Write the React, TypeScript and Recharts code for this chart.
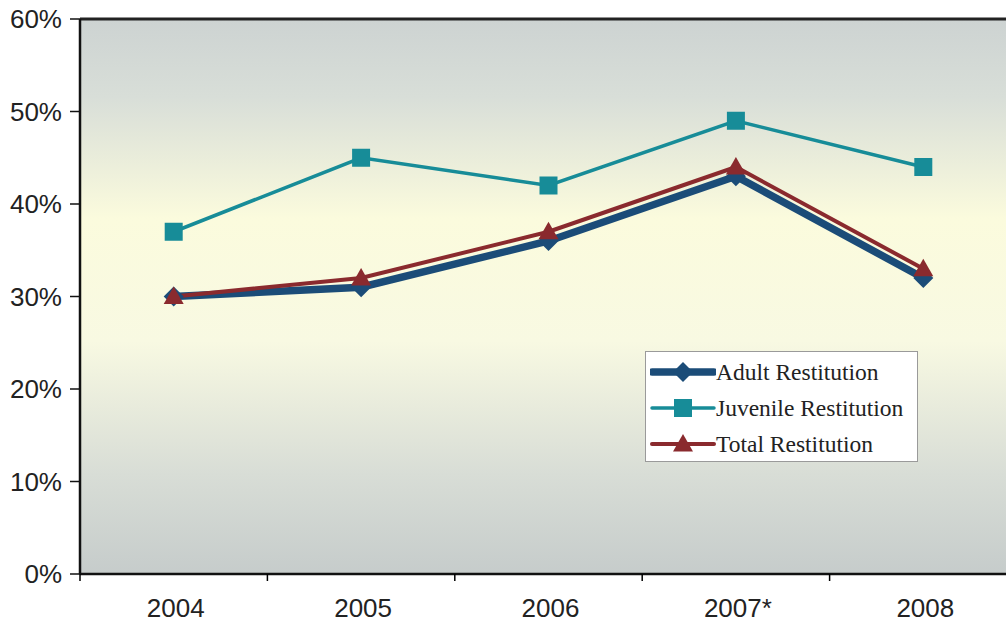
import React from "react";
import {
  LineChart,
  Line,
  XAxis,
  YAxis,
  CartesianGrid,
  ReferenceLine,
} from "recharts";

const years = ["2004", "2005", "2006", "2007*", "2008"];
const adult = [30, 31, 36, 43, 32];
const juvenile = [37, 45, 42, 49, 44];
const total = [30, 32, 37, 44, 33];
const yTicks = [0, 10, 20, 30, 40, 50, 60];

const NAVY = "#1b4c78";
const TEAL = "#178c98";
const RED = "#8a2a2e";

const data = years.map((y, i) => ({
  year: y,
  adult: adult[i],
  juvenile: juvenile[i],
  total: total[i],
}));

const SERIES = [
  { key: "adult", name: "Adult Restitution", color: NAVY, width: 7.5, shape: "diamond" },
  { key: "juvenile", name: "Juvenile Restitution", color: TEAL, width: 3.5, shape: "square" },
  { key: "total", name: "Total Restitution", color: RED, width: 4, shape: "triangle" },
];

function Marker({ cx, cy, shape, color }: any) {
  if (cx == null || cy == null) return null;
  if (shape === "diamond") {
    const r = 10;
    return (
      <path
        d={`M${cx},${cy - r}L${cx + r},${cy}L${cx},${cy + r}L${cx - r},${cy}Z`}
        fill={color}
      />
    );
  }
  if (shape === "square") {
    const r = 9;
    return <rect x={cx - r} y={cy - r} width={r * 2} height={r * 2} fill={color} />;
  }
  const r = 10;
  return (
    <path
      d={`M${cx},${cy - r}L${cx + r},${cy + r * 0.75}L${cx - r},${cy + r * 0.75}Z`}
      fill={color}
    />
  );
}

function XTick({ x, y, payload }: any) {
  const off = payload.offset || 0;
  return (
    <g>
      <line x1={x - off} y1={y - 8} x2={x - off} y2={y - 1} stroke="#000" strokeWidth={1.5} />
      <text
        x={x + 2}
        y={y + 35}
        textAnchor="middle"
        fontFamily="Liberation Sans, Arial, sans-serif"
        fontSize={26}
        fill="#222"
      >
        {payload.value}
      </text>
    </g>
  );
}

function LegendBox() {
  return (
    <div
      style={{
        position: "absolute",
        left: 645,
        top: 351,
        width: 273,
        height: 111,
        background: "#fff",
        border: "1px solid #9a9a9a",
        boxSizing: "border-box",
        padding: "2px 0 0 4px",
      }}
    >
      {SERIES.map((s) => (
        <div key={s.key} style={{ display: "flex", alignItems: "center", height: 36 }}>
          <svg width={66} height={24}>
            <line x1={2} y1={12} x2={64} y2={12} stroke={s.color} strokeWidth={s.width} strokeLinecap="round" />
            <Marker cx={33} cy={12} shape={s.shape} color={s.color} />
          </svg>
          <span
            style={{
              fontFamily: "Liberation Serif, Times New Roman, serif",
              fontSize: 23.5,
              color: "#222",
              marginLeft: 0,
            }}
          >
            {s.name}
          </span>
        </div>
      ))}
    </div>
  );
}

export default function App() {
  return (
    <div
      style={{
        position: "absolute",
        left: 0,
        top: 0,
        width: 1006,
        height: 626,
        overflow: "hidden",
        background: "#fff",
      }}
    >
      <LineChart
        width={1022}
        height={626}
        data={data}
        margin={{ top: 19, right: 5, bottom: 0, left: 0 }}
      >
        <defs>
          <linearGradient id="bg" x1="0" y1="0" x2="0" y2="1">
            <stop offset="0%" stopColor="#cdd3d2" />
            <stop offset="14%" stopColor="#d8ded8" />
            <stop offset="36%" stopColor="#fbfbdd" />
            <stop offset="58%" stopColor="#f8f9e2" />
            <stop offset="82%" stopColor="#d8ddd6" />
            <stop offset="100%" stopColor="#c6cccb" />
          </linearGradient>
        </defs>
        <CartesianGrid fill="url(#bg)" stroke="none" horizontal={false} vertical={false} />
        <XAxis
          dataKey="year"
          scale="band"
          height={52}
          axisLine={{ stroke: "#111", strokeWidth: 2.5 }}
          tickLine={false}
          tick={<XTick />}
          interval={0}
        />
        <YAxis
          width={80}
          domain={[0, 60]}
          ticks={yTicks}
          tickFormatter={(v) => `${v}%`}
          axisLine={{ stroke: "#111", strokeWidth: 2.5 }}
          tickLine={{ stroke: "#111", strokeWidth: 1.5 }}
          tickSize={10}
          tickMargin={8}
          tick={{ fontSize: 26, fill: "#222", fontFamily: "Liberation Sans, Arial, sans-serif" }}
        />
        <ReferenceLine y={60} stroke="#222" strokeWidth={3} />
        {[SERIES[1], SERIES[0], SERIES[2]].map((s) => (
          <Line
            key={s.key}
            type="linear"
            dataKey={s.key}
            name={s.name}
            stroke={s.color}
            strokeWidth={s.width}
            dot={(p: any) => <Marker key={`${s.key}-${p.index}`} cx={p.cx} cy={p.cy} shape={s.shape} color={s.color} />}
            activeDot={false}
            isAnimationActive={false}
          />
        ))}
      </LineChart>
      <LegendBox />
    </div>
  );
}
